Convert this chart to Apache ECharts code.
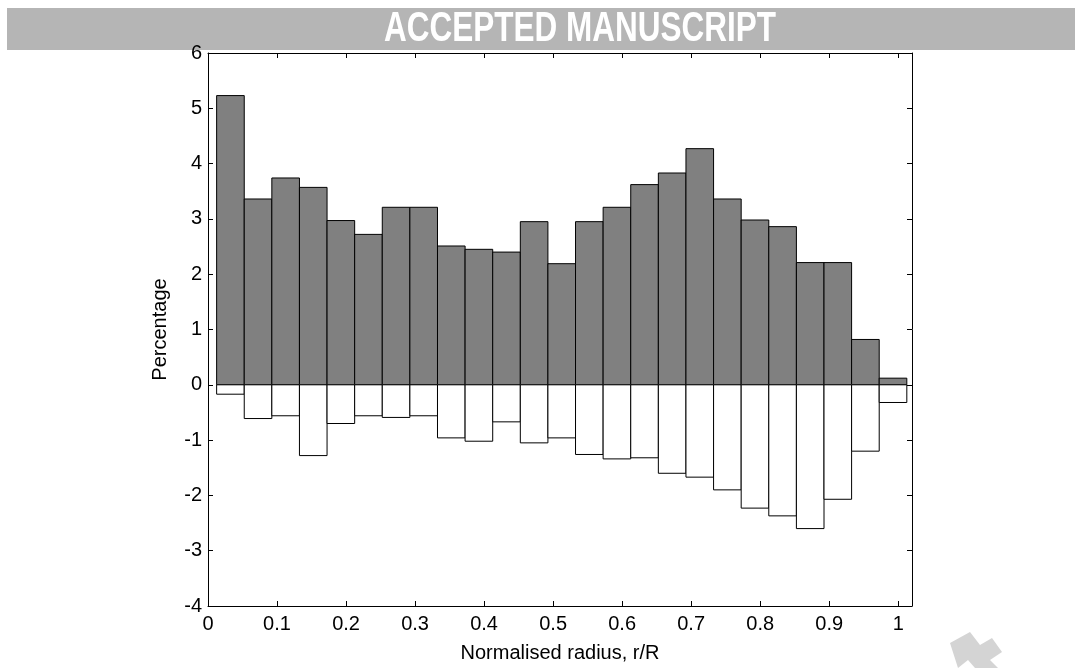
<!DOCTYPE html>
<html>
<head>
<meta charset="utf-8">
<script src="https://cdn.jsdelivr.net/npm/echarts@6/dist/echarts.min.js"></script>
<style>
  html, body { margin: 0; padding: 0; background: #ffffff; }
  #chart { width: 1075px; height: 668px; }
</style>
</head>
<body>
<div id="chart"></div>
<script>
// Bin centres along the normalised radius (bins are 0.04 wide)
const binCentres = [0.0325, 0.0725, 0.1125, 0.1525, 0.1925, 0.2325, 0.2725, 0.3125, 0.3525, 0.3925,
                    0.4325, 0.4725, 0.5125, 0.5525, 0.5925, 0.6325, 0.6725, 0.7125, 0.7525, 0.7925,
                    0.8325, 0.8725, 0.9125, 0.9525, 0.9925];
const binWidth = 0.04;

// Percentage per bin: upper (filled) and lower (open) distributions
const upperPct = [5.23, 3.36, 3.74, 3.57, 2.97, 2.72, 3.21, 3.21, 2.51, 2.45,
                  2.40, 2.95, 2.19, 2.95, 3.21, 3.62, 3.83, 4.27, 3.36, 2.98,
                  2.86, 2.21, 2.21, 0.82, 0.12];
const lowerPct = [-0.17, -0.61, -0.56, -1.28, -0.70, -0.56, -0.59, -0.56, -0.96, -1.02,
                  -0.67, -1.05, -0.96, -1.26, -1.34, -1.32, -1.60, -1.67, -1.90, -2.23,
                  -2.37, -2.60, -2.07, -1.20, -0.32];

const xTickLabels = ['0', '0.1', '0.2', '0.3', '0.4', '0.5', '0.6', '0.7', '0.8', '0.9', '1'];

const FONT = '"Liberation Sans", Arial, Helvetica, sans-serif';

function histRect(fill) {
  return function (params, api) {
    const x = api.value(0);
    const v = api.value(1);
    const p0 = api.coord([x - binWidth / 2, 0]);
    const p1 = api.coord([x + binWidth / 2, v]);
    return {
      type: 'rect',
      shape: {
        x: Math.min(p0[0], p1[0]),
        y: Math.min(p0[1], p1[1]),
        width: Math.abs(p1[0] - p0[0]),
        height: Math.abs(p1[1] - p0[1])
      },
      style: { fill: fill, stroke: '#000000', lineWidth: 1 }
    };
  };
}

const chart = echarts.init(document.getElementById('chart'), null, { renderer: 'canvas' });

const tickLabelStyle = { color: '#000000', fontSize: 20, fontFamily: FONT };

chart.setOption({
  animation: false,
  backgroundColor: '#ffffff',
  grid: { left: 208, right: 163, top: 53, bottom: 61 },
  graphic: [
    {
      type: 'rect',
      left: 7, top: 8,
      shape: { width: 1068, height: 42 },
      style: { fill: '#b5b5b5' },
      z: 0
    },
    {
      type: 'text',
      x: 580, y: 29,
      scaleX: 0.75,
      style: {
        text: 'ACCEPTED MANUSCRIPT',
        fill: '#ffffff',
        font: 'bold 42px ' + FONT,
        textAlign: 'center',
        textVerticalAlign: 'middle'
      },
      z: 1
    },
    {
      type: 'polygon',
      shape: {
        points: [[950, 643], [970, 632], [980, 645], [992, 638], [1002, 652], [990, 660], [998, 668], [975, 668], [968, 660], [958, 668]]
      },
      style: { fill: '#d4d4d4' },
      z: 0
    }
  ],
  xAxis: [
    {
      type: 'value',
      min: 0, max: 1.02, interval: 0.1,
      position: 'bottom',
      name: 'Normalised radius, r/R',
      nameLocation: 'middle',
      nameGap: 37,
      nameTextStyle: { color: '#000000', fontSize: 20, fontFamily: FONT },
      axisLine: { show: true, onZero: false, lineStyle: { color: '#000000', width: 1 } },
      axisTick: { show: true, inside: true, length: 5, lineStyle: { color: '#000000' } },
      axisLabel: Object.assign({
        margin: 8, showMaxLabel: false,
        formatter: function (v) {
          const i = Math.round(v * 10);
          return (Math.abs(v * 10 - i) < 1e-6 && i <= 10) ? xTickLabels[i] : '';
        }
      }, tickLabelStyle),
      splitLine: { show: false }
    },
    {
      type: 'value',
      min: 0, max: 1.02, interval: 0.1,
      position: 'top',
      axisLine: { show: true, onZero: false, lineStyle: { color: '#000000', width: 1 } },
      axisTick: { show: true, inside: true, length: 5, lineStyle: { color: '#000000' } },
      axisLabel: { show: false },
      splitLine: { show: false }
    }
  ],
  yAxis: [
    {
      type: 'value',
      min: -4, max: 6, interval: 1,
      position: 'left',
      name: 'Percentage',
      nameLocation: 'middle',
      nameGap: 38,
      nameTextStyle: { color: '#000000', fontSize: 20, fontFamily: FONT },
      axisLine: { show: true, onZero: false, lineStyle: { color: '#000000', width: 1 } },
      axisTick: { show: true, inside: true, length: 5, lineStyle: { color: '#000000' } },
      axisLabel: Object.assign({ margin: 6 }, tickLabelStyle),
      splitLine: { show: false }
    },
    {
      type: 'value',
      min: -4, max: 6, interval: 1,
      position: 'right',
      axisLine: { show: true, onZero: false, lineStyle: { color: '#000000', width: 1 } },
      axisTick: { show: true, inside: true, length: 5, lineStyle: { color: '#000000' } },
      axisLabel: { show: false },
      splitLine: { show: false }
    }
  ],
  series: [
    {
      name: 'upper',
      type: 'custom',
      xAxisIndex: 0, yAxisIndex: 0,
      renderItem: histRect('#808080'),
      encode: { x: 0, y: 1 },
      data: binCentres.map((c, i) => [c, upperPct[i]]),
      z: 2
    },
    {
      name: 'lower',
      type: 'custom',
      xAxisIndex: 0, yAxisIndex: 0,
      renderItem: histRect('#ffffff'),
      encode: { x: 0, y: 1 },
      data: binCentres.map((c, i) => [c, lowerPct[i]]),
      z: 2
    }
  ]
});
</script>
</body>
</html>
